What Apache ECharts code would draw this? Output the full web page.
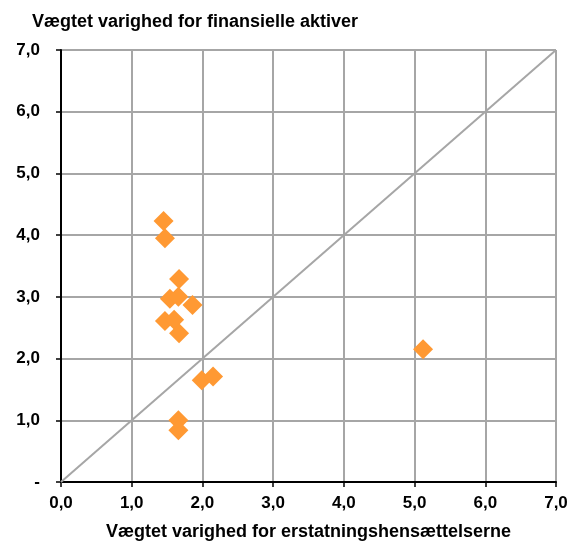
<!DOCTYPE html>
<html><head><meta charset="utf-8">
<script src="https://cdn.jsdelivr.net/npm/echarts@6/dist/echarts.min.js"></script>
<style>html,body{margin:0;padding:0;background:#fff}#c{width:576px;height:542px}</style>
</head><body><div id="c"></div>
<script>
const xVals = [1.45, 1.47, 1.67, 1.54, 1.66, 1.86, 1.47, 1.60, 1.67, 1.99, 2.15, 1.66, 1.66, 5.12];
const yVals = [4.23, 3.95, 3.29, 2.97, 3.00, 2.87, 2.61, 2.63, 2.41, 1.65, 1.71, 1.00, 0.84, 2.15];
const diagX = [0, 7];
const diagY = [0, 7];
const xTitle = 'Vægtet varighed for erstatningshensættelserne';
const yTitle = 'Vægtet varighed for finansielle aktiver';

const points = xVals.map((x, i) => [x, yVals[i]]);
const diag = diagX.map((x, i) => [x, diagY[i]]);
const fmt = v => v === 0 ? '-' : v.toFixed(1).replace('.', ',');
const font = 'Liberation Sans, Arial, sans-serif';

const chart = echarts.init(document.getElementById('c'));
chart.setOption({
  animation: false,
  title: { text: yTitle, left: 27, top: 8, textStyle: { fontFamily: font, fontSize: 18, fontWeight: 'bold', color: '#000' } },
  grid: { left: 61, right: 20, top: 50, bottom: 60, containLabel: false, outerBoundsMode: 'none' },
  xAxis: {
    type: 'value', min: 0, max: 7, interval: 1,
    name: xTitle, nameLocation: 'middle', nameGap: 41,
    nameTextStyle: { fontFamily: font, fontSize: 18, fontWeight: 'bold', color: '#000' },
    axisLine: { onZero: false, lineStyle: { color: '#000', width: 2 } },
    axisTick: { show: true, length: 5, lineStyle: { color: '#000', width: 1.5 } },
    axisLabel: { formatter: v => v.toFixed(1).replace('.', ','), margin: 13, fontFamily: font, fontSize: 17, fontWeight: 'bold', color: '#000' },
    splitLine: { show: true, lineStyle: { color: '#A6A6A6', width: 2 } }
  },
  yAxis: {
    type: 'value', min: 0, max: 7, interval: 1,
    axisLine: { show: true, onZero: false, lineStyle: { color: '#000', width: 2 } },
    axisTick: { show: true, length: 5, lineStyle: { color: '#000', width: 1.5 } },
    axisLabel: { formatter: fmt, margin: 21, fontFamily: font, fontSize: 17, fontWeight: 'bold', color: '#000' },
    splitLine: { show: true, lineStyle: { color: '#A6A6A6', width: 2 } }
  },
  series: [
    { type: 'line', data: diag, symbol: 'none', lineStyle: { color: '#A6A6A6', width: 2 }, silent: true },
    { type: 'scatter', data: points, symbol: 'diamond', symbolSize: [20, 20], itemStyle: { color: '#FF9933', opacity: 1 } }
  ]
});
</script></body></html>
